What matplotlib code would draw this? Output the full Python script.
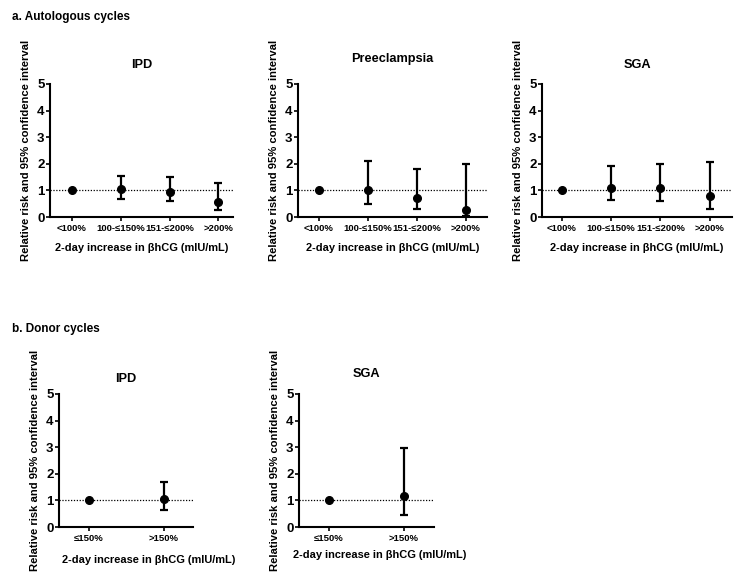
import matplotlib
matplotlib.use("Agg")
import matplotlib.pyplot as plt
import numpy as np

plt.rcParams['font.family'] = ['Liberation Sans', 'DejaVu Sans']
plt.rcParams['font.weight'] = 'bold'

# autologous cycles
auto_cats = ['<100%', '100-\u2264150%', '151-\u2264200%', '>200%']
auto_ipd_rr = [1.0, 1.04, 0.94, 0.57]
auto_ipd_lo = [1.0, 0.69, 0.59, 0.26]
auto_ipd_hi = [1.0, 1.54, 1.49, 1.28]
auto_pre_rr = [1.0, 1.0, 0.73, 0.25]
auto_pre_lo = [1.0, 0.48, 0.30, 0.02]
auto_pre_hi = [1.0, 2.09, 1.80, 2.0]
auto_sga_rr = [1.0, 1.10, 1.09, 0.80]
auto_sga_lo = [1.0, 0.64, 0.59, 0.31]
auto_sga_hi = [1.0, 1.90, 2.0, 2.05]

# donor cycles
donor_cats = ['\u2264150%', '>150%']
donor_ipd_rr = [1.0, 1.05]
donor_ipd_lo = [1.0, 0.65]
donor_ipd_hi = [1.0, 1.68]
donor_sga_rr = [1.0, 1.16]
donor_sga_lo = [1.0, 0.46]
donor_sga_hi = [1.0, 2.96]

W, H = 750, 584
fig = plt.figure(figsize=(7.5, 5.84), dpi=100)


def panel(rect, title, cats, rr, lo, hi, xlim, tpad):
    l, t, r, b = rect
    ax = fig.add_axes([l / W, 1 - b / H, (r - l) / W, (b - t) / H])
    x = np.arange(len(cats))
    rr = np.array(rr); lo = np.array(lo); hi = np.array(hi)
    ax.axhline(1, color='black', lw=0.9, ls=(0, (1, 1.3)), zorder=1)
    ax.errorbar(x[1:], rr[1:], yerr=[rr[1:] - lo[1:], hi[1:] - rr[1:]],
                fmt='none', ecolor='black', elinewidth=1.6, capsize=3,
                capthick=1.6, zorder=2)
    ax.plot(x, rr, 'o', color='black', ms=5.5, zorder=3)
    ax.set_xlim(*xlim)
    ax.set_ylim(0, 5)
    ax.set_yticks(range(6))
    ax.set_xticks(x)
    ax.set_xticklabels(cats, fontsize=6.8, fontweight='bold')
    ax.tick_params(axis='y', labelsize=9.5, length=3, width=1.2, pad=1)
    ax.tick_params(axis='x', length=3, width=1.2, pad=2)
    for s in ['top', 'right']:
        ax.spines[s].set_visible(False)
    for s in ['left', 'bottom']:
        ax.spines[s].set_linewidth(1.5)
    ax.set_title(title, fontsize=9.2, fontweight='bold', pad=tpad)
    ax.set_xlabel('2-day increase in \u03b2hCG (mIU/mL)', fontsize=7.9,
                  fontweight='bold', labelpad=7)
    ax.set_ylabel('Relative risk and 95% confidence interval', fontsize=8.1,
                  fontweight='bold', labelpad=4)
    return ax


panel((50, 84, 233, 217), 'IPD', auto_cats, auto_ipd_rr, auto_ipd_lo, auto_ipd_hi, (-0.45, 3.3), 11.6)
panel((298, 84, 487, 217), 'Preeclampsia', auto_cats, auto_pre_rr, auto_pre_lo, auto_pre_hi, (-0.42, 3.43), 15.9)
panel((542, 84, 732, 217), 'SGA', auto_cats, auto_sga_rr, auto_sga_lo, auto_sga_hi, (-0.4, 3.45), 11.6)
ax4 = panel((59, 394, 193, 527), 'IPD', donor_cats, donor_ipd_rr, donor_ipd_lo, donor_ipd_hi, (-0.4, 1.39), 8.7)
ax5 = panel((299, 394, 434, 527), 'SGA', donor_cats, donor_sga_rr, donor_sga_lo, donor_sga_hi, (-0.4, 1.4), 12.3)

# donor x labels sit right of centre in the original
ax4.xaxis.set_label_coords(0.67, -0.21)
ax5.xaxis.set_label_coords(0.6, -0.17)

fig.text(12 / W, 1 - 17 / H, 'a. Autologous cycles', fontsize=8.5, fontweight='bold', va='center')
fig.text(12 / W, 1 - 329 / H, 'b. Donor cycles', fontsize=8.5, fontweight='bold', va='center')

fig.savefig('out.png', dpi=100)
